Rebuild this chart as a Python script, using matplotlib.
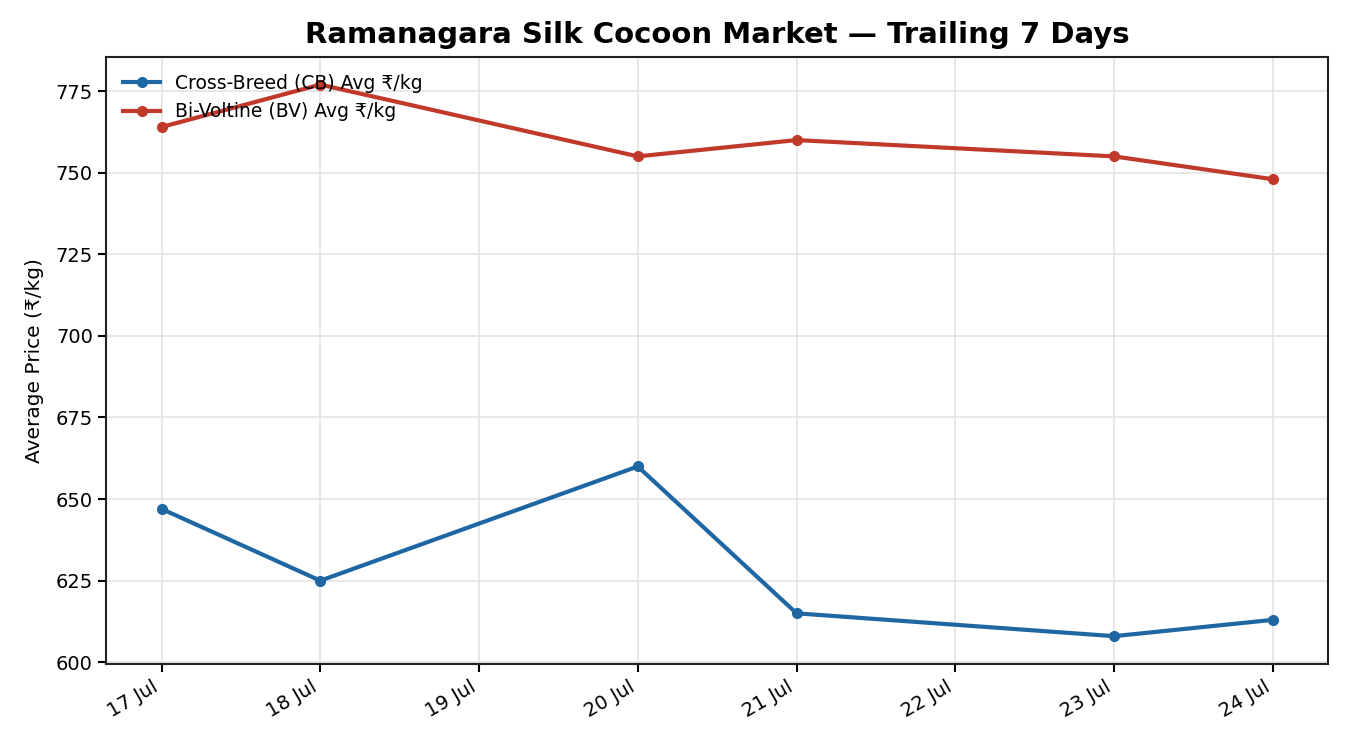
import matplotlib
matplotlib.use("Agg")
import matplotlib.pyplot as plt
import matplotlib.dates as mdates
import pandas as pd

# Ramanagara market averages (₹/kg), no auctions on 19 and 22 Jul
dates = pd.to_datetime(["2024-07-17", "2024-07-18", "2024-07-20",
                        "2024-07-21", "2024-07-23", "2024-07-24"])
cb_avg = [647, 625, 660, 615, 608, 613]
bv_avg = [764, 777, 755, 760, 755, 748]

fig, ax = plt.subplots(figsize=(13.5, 7.5), dpi=100)
fig.subplots_adjust(left=0.0785, right=0.984, top=0.924, bottom=0.115)

ax.plot(dates, cb_avg, marker="o", markersize=7, linewidth=3,
        color="#1f67a3", label="Cross-Breed (CB) Avg ₹/kg")
ax.plot(dates, bv_avg, marker="o", markersize=7, linewidth=3,
        color="#c0392b", label="Bi-Voltine (BV) Avg ₹/kg")

ax.xaxis.set_major_locator(mdates.DayLocator())
ax.xaxis.set_major_formatter(mdates.DateFormatter("%d %b"))
plt.setp(ax.get_xticklabels(), rotation=30, ha="right")

ax.grid(True, color="#e2e2e2", linewidth=1.1)
ax.set_axisbelow(True)
for s in ax.spines.values():
    s.set_linewidth(1.5)
    s.set_color("#222222")

ax.tick_params(labelsize=14, width=1.5, length=6)
ax.set_ylabel("Average Price (₹/kg)", fontsize=14.5, labelpad=8)
ax.set_title("Ramanagara Silk Cocoon Market — Trailing 7 Days",
             fontsize=21, fontweight="bold", pad=10)
ax.legend(loc="upper left", frameon=False, fontsize=13.5)

fig.savefig("out.png", dpi=100)
